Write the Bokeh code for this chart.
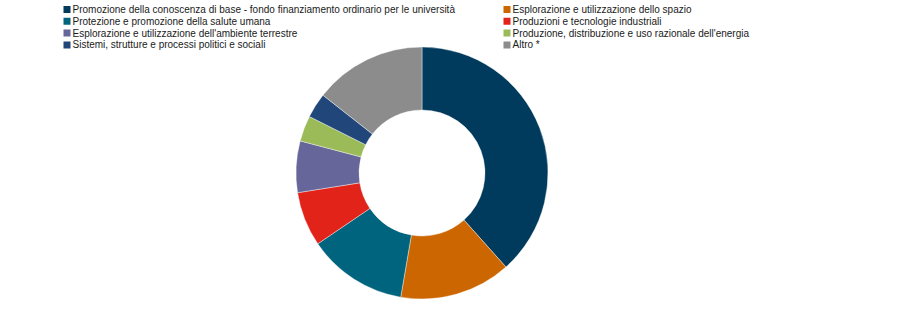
import numpy as np
from bokeh.plotting import figure
from bokeh.models import Range1d, ColumnDataSource
from bokeh.core.properties import value
from bokeh.embed import file_html
from bokeh.resources import INLINE

categories = [
    "Promozione della conoscenza di base - fondo finanziamento ordinario per le università",
    "Esplorazione e utilizzazione dello spazio",
    "Protezione e promozione della salute umana",
    "Produzioni e tecnologie industriali",
    "Esplorazione e utilizzazione dell'ambiente terrestre",
    "Produzione, distribuzione e uso razionale dell'energia",
    "Sistemi, strutture e processi politici e sociali",
    "Altro *",
]
shares = [38.4, 14.3, 12.8, 7.0, 6.6, 3.3, 3.2, 14.4]
colors = ["#003A5C", "#CC6600", "#00647F", "#E2231A", "#67669A", "#9BBB59", "#21477A", "#8C8C8C"]

W, H = 900, 319
p = figure(width=W, height=H, output_backend="svg", toolbar_location=None,
           x_range=Range1d(0, W), y_range=Range1d(0, H), min_border=0)
p.axis.visible = False
p.grid.visible = False
p.outline_line_color = None
p.background_fill_color = "white"
p.border_fill_color = "white"

vals = np.array(shares, dtype=float)
frac = vals / vals.sum()
cum = np.concatenate([[0], np.cumsum(frac)])
start = np.pi / 2 - 2 * np.pi * cum[1:]
end = np.pi / 2 - 2 * np.pi * cum[:-1]

cx, cy = 421.5, H - 172.5
src = ColumnDataSource(dict(start=start, end=end, color=colors))
p.annular_wedge(x=cx, y=cy, inner_radius=63, outer_radius=126,
                start_angle="start", end_angle="end", direction="anticlock",
                fill_color="color", line_color="white", line_width=0.4, source=src)

# legend: two columns, row-major
col_x = [63, 503]
row_y0 = H - 9
row_dy = 11.8
lx, ly, tx, ty, lc, lt = [], [], [], [], [], []
for i, (c, col) in enumerate(zip(categories, colors)):
    r, k = divmod(i, 2)
    y = row_y0 - r * row_dy
    lx.append(col_x[k] + 3.5); ly.append(y)
    tx.append(col_x[k] + 9); ty.append(y)
    lc.append(col); lt.append(c)
p.rect(x=lx, y=ly, width=7, height=7, fill_color=lc, line_color=None)
p.text(x=tx, y=ty, text=lt, text_font=value("Liberation Sans"), text_font_size="10px",
       text_baseline="middle", text_align="left", text_color="#1a1a1a")

open("out.html", "w").write(file_html(p, INLINE))
